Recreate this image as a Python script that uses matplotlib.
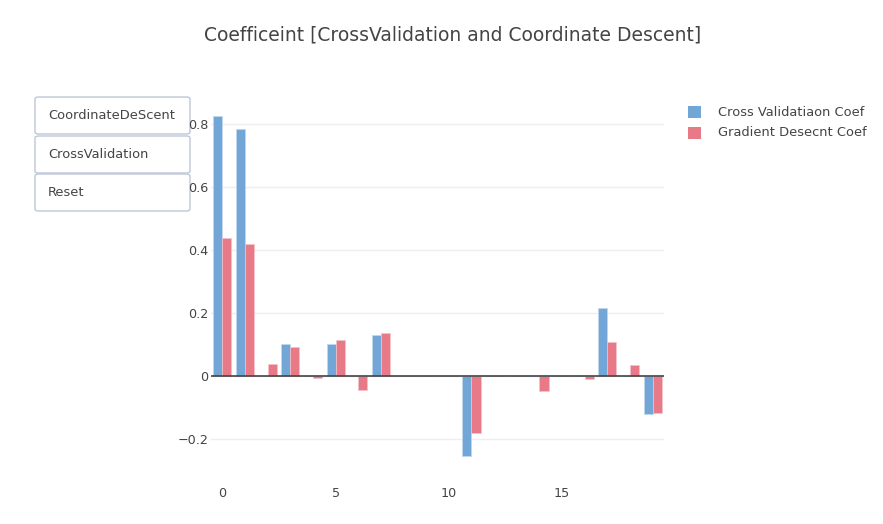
import matplotlib
matplotlib.use("Agg")
import matplotlib.pyplot as plt
from matplotlib.patches import FancyBboxPatch, Rectangle
import numpy as np

plt.rcParams["font.family"] = ["DejaVu Sans"]

features = list(range(20))
cv_coef = [0.824, 0.784, 0.0, 0.102, 0.0, 0.102, 0.0, 0.131, 0.0, 0.0,
           0.0, -0.254, 0.0, 0.0, 0.0, 0.0, 0.0, 0.216, 0.0, -0.119]
gd_coef = [0.437, 0.420, 0.038, 0.093, -0.007, 0.115, -0.044, 0.138, 0.0, 0.0,
           0.0, -0.179, 0.0, 0.0, -0.046, 0.0, -0.008, 0.110, 0.037, -0.116]
buttons = ["CoordinateDeScent", "CrossValidation", "Reset"]
legend_labels = ["Cross Validatiaon Coef", "Gradient Desecnt Coef"]

BLUE = "#72a6d6"
RED = "#e77a86"
TXT = "#444444"

fig = plt.figure(figsize=(8.83, 5.24), dpi=100)
ax = fig.add_axes([0.239, 0.103, 0.513, 0.706])

x = np.array(features)
w = 0.4
ax.bar(x - w / 2, cv_coef, width=w, color=BLUE, edgecolor="#c2d8ee", linewidth=0.5, zorder=3)
ax.bar(x + w / 2, gd_coef, width=w, color=RED, edgecolor="#f2c2c8", linewidth=0.5, zorder=3)

ax.set_xlim(-0.5, 19.5)
ax.set_ylim(-0.297, 0.875)
ax.set_xticks([0, 5, 10, 15])
ax.set_yticks([-0.2, 0, 0.2, 0.4, 0.6, 0.8])
ax.set_yticklabels(["\u22120.2", "0", "0.2", "0.4", "0.6", "0.8"])
ax.grid(axis="y", color="#eeeeee", linewidth=1, zorder=0)
ax.axhline(0, color=TXT, linewidth=1.2, zorder=4)
for s in ax.spines.values():
    s.set_visible(False)
ax.tick_params(length=0, labelsize=9.2, colors=TXT)
ax.tick_params(axis="y", pad=2)
ax.tick_params(axis="x", pad=12)

fig.text(0.513, 1 - 35 / 524, "Coefficeint [CrossValidation and Coordinate Descent]",
         ha="center", va="center", fontsize=13.5, color=TXT)

# update-menu buttons (drawn under the axes so the tick labels stay visible)
tops = [97, 136, 174]
for label, t in zip(buttons, tops):
    h = 37
    box = FancyBboxPatch((35 / 883, 1 - (t + h) / 524), 155 / 883, h / 524,
                         boxstyle="round,pad=0,rounding_size=0.004",
                         transform=fig.transFigure, facecolor="white",
                         edgecolor="#bec8d9", linewidth=1, zorder=-1)
    fig.patches.append(box)
    fig.text(48 / 883, 1 - (t + h / 2) / 524, label, ha="left", va="center",
             fontsize=9.4, color=TXT)

# legend
for i, (lab, col) in enumerate(zip(legend_labels, [BLUE, RED])):
    yc = 112 + i * 21
    fig.patches.append(Rectangle((688 / 883, 1 - (yc + 6) / 524), 13 / 883, 12 / 524,
                                 transform=fig.transFigure, facecolor=col,
                                 edgecolor="none"))
    fig.text(718 / 883, 1 - yc / 524, lab, ha="left", va="center",
             fontsize=9.4, color=TXT)

fig.savefig("out.png", dpi=100)
